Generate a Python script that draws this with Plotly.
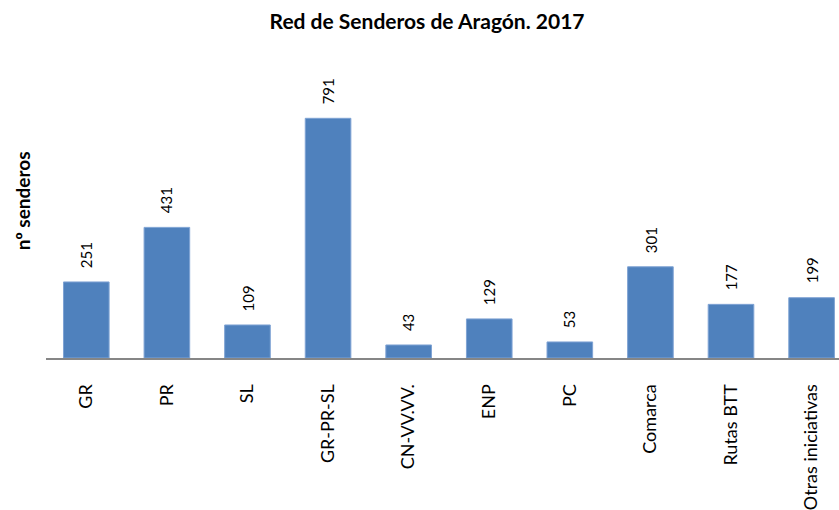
import plotly.graph_objects as go

categories = ["GR", "PR", "SL", "GR-PR-SL", "CN-VV.VV.", "ENP", "PC", "Comarca", "Rutas BTT", "Otras iniciativas"]
values = [251, 431, 109, 791, 43, 129, 53, 301, 177, 199]

FONT = "Lato"

fig = go.Figure()
fig.add_trace(go.Bar(
    x=list(range(len(categories))),
    y=values,
    width=0.566,
    marker=dict(color="#4F81BD", line=dict(color="#7FA3D4", width=1)),
    hoverinfo="x+y",
))

for i, v in enumerate(values):
    fig.add_annotation(
        x=i, y=v, text=str(v), textangle=-90, showarrow=False,
        xanchor="center", yanchor="bottom", yshift=12,
        font=dict(family=FONT, size=15, color="#000000"),
    )

fig.add_annotation(
    xref="paper", yref="paper", x=-0.030, y=0.541, xanchor="center", yanchor="middle",
    text="<b>nº senderos</b>", textangle=-90, showarrow=False,
    font=dict(family=FONT, size=19, color="#000000"),
)

fig.update_layout(
    width=839, height=510,
    margin=dict(l=46, r=0, t=68, b=152),
    paper_bgcolor="white", plot_bgcolor="white",
    showlegend=False,
    title=dict(text="<b>Red de Senderos de Aragón. 2017</b>", x=0.509, xanchor="center",
               y=0.957, yanchor="middle", font=dict(family=FONT, size=21, color="#000000")),
    xaxis=dict(
        tickmode="array", tickvals=list(range(len(categories))), ticktext=categories,
        tickangle=-90, range=[-0.5, 9.34], showgrid=False, zeroline=False,
        showline=True, linecolor="#868686", linewidth=2, ticks="",
        ticklabelstandoff=17,
        tickfont=dict(family=FONT, size=18, color="#000000"),
    ),
    yaxis=dict(range=[0, 957], visible=False, showgrid=False, zeroline=False),
)

fig.write_html(
    "out.html",
    config={"displayModeBar": False},
    post_script="document.body.style.margin='0px';document.body.style.overflow='hidden';",
)
